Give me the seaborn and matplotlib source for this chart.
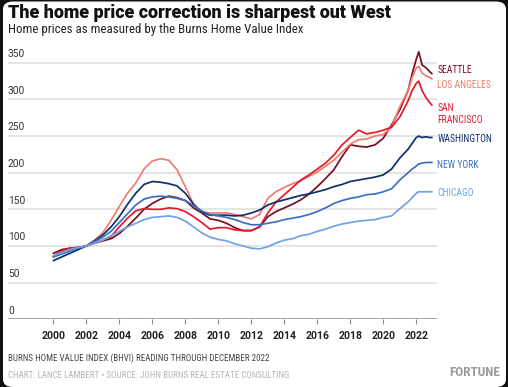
import matplotlib
matplotlib.use("Agg")
import matplotlib.pyplot as plt
from matplotlib.patches import FancyBboxPatch
import seaborn as sns
import pandas as pd

years = [2000.0, 2000.5, 2001.0, 2001.5, 2002.0, 2002.5, 2003.0, 2003.5, 2004.0, 2004.5,
         2005.0, 2005.5, 2006.0, 2006.5, 2007.0, 2007.5, 2008.0, 2008.5, 2009.0, 2009.5,
         2010.0, 2010.5, 2011.0, 2011.5, 2012.0, 2012.5, 2013.0, 2013.5, 2014.0, 2014.5,
         2015.0, 2015.5, 2016.0, 2016.5, 2017.0, 2017.5, 2018.0, 2018.5, 2019.0, 2019.5,
         2020.0, 2020.5, 2021.0, 2021.5, 2021.75, 2022.0, 2022.15, 2022.35, 2022.6, 2022.8, 2022.95]

seattle = [90, 95, 97, 98, 100, 104, 107, 110, 117, 127, 138, 150, 158, 164, 168, 166, 162, 152, 145, 137,
           135, 131, 125, 121, 121, 126, 140, 147, 152, 157, 163, 171, 181, 192, 204, 222, 238, 236, 235, 238,
           247, 265, 286, 312, 335, 355, 365, 347, 343, 338, 335]
los_angeles = [85, 90, 94, 97, 100, 108, 118, 135, 154, 172, 186, 205, 216, 219, 217, 204, 181, 157, 146, 145,
               145, 145, 143, 140, 137, 143, 165, 174, 180, 185, 189, 195, 201, 209, 217, 228, 239, 245, 246, 250,
               252, 262, 290, 312, 330, 343, 345, 336, 332, 330, 328]
san_francisco = [86, 93, 97, 98, 100, 104, 108, 113, 126, 138, 148, 151, 150, 150, 152, 151, 147, 140, 132, 123,
                 125, 125, 122, 121, 121, 126, 145, 160, 170, 180, 190, 197, 205, 213, 224, 238, 248, 258, 253, 255,
                 258, 262, 276, 298, 312, 322, 325, 312, 302, 296, 292]
washington = [80, 85, 90, 95, 100, 107, 115, 126, 140, 157, 172, 184, 188, 187, 185, 182, 172, 157, 146, 142,
              142, 142, 141, 142, 145, 149, 156, 160, 163, 166, 169, 171, 174, 177, 181, 184, 188, 190, 192, 194,
              197, 205, 220, 232, 240, 248, 250, 248, 249, 248, 248]
new_york = [85, 89, 93, 97, 100, 106, 112, 120, 132, 144, 156, 164, 167, 168, 167, 165, 162, 155, 148, 143,
            141, 139, 136, 132, 129, 129, 131, 133, 136, 138, 140, 143, 147, 152, 158, 162, 165, 167, 170, 171,
            174, 178, 190, 200, 205, 209, 212, 213, 214, 214, 214]
chicago = [87, 91, 95, 98, 100, 104, 108, 114, 120, 126, 131, 136, 139, 140, 141, 139, 134, 126, 118, 112,
           109, 107, 103, 100, 97, 96, 99, 104, 108, 110, 114, 116, 120, 123, 127, 130, 132, 134, 135, 136,
           139, 141, 151, 160, 166, 172, 174, 174, 174, 174, 174]

cities = ["SEATTLE", "LOS ANGELES", "SAN\nFRANCISCO", "WASHINGTON", "NEW YORK", "CHICAGO"]
series = [seattle, los_angeles, san_francisco, washington, new_york, chicago]
colors = ["#7a0d1f", "#f47a6e", "#e01b2c", "#0e2f6b", "#3b6fc0", "#6fa3e6"]
label_y = [340, 319, 280, 246, 211, 172]

y_ticks = [0, 50, 100, 150, 200, 250, 300, 350]
x_ticks = [2000, 2002, 2004, 2006, 2008, 2010, 2012, 2014, 2016, 2018, 2020, 2022]

title = "The home price correction is sharpest out West"
subtitle = "Home prices as measured by the Burns Home Value Index"
note = "BURNS HOME VALUE INDEX (BHVI) READING THROUGH DECEMBER 2022"
source = "CHART: LANCE LAMBERT \u2022 SOURCE: JOHN BURNS REAL ESTATE CONSULTING"

rows = []
for c, s in zip(cities, series):
    for yr, v in zip(years, s):
        rows.append({"year": yr, "value": v, "city": c})
df = pd.DataFrame(rows)

sns.set_style("white")
plt.rcParams["font.family"] = ["Roboto", "DejaVu Sans"]

W, H = 508, 387
fig = plt.figure(figsize=(W / 100, H / 100), dpi=100)
fig.patch.set_facecolor("#111111")
bg = FancyBboxPatch((3 / W, 0.0), (W - 5) / W, (H - 1.5) / H,
                    boxstyle="round,pad=0,rounding_size=0.02",
                    transform=fig.transFigure, facecolor="white", edgecolor="none", zorder=-10)
fig.patches.append(bg)

ax = fig.add_axes([8 / W, 1 - 319.3 / H, (437 - 8) / W, (319.3 - 50) / H])
ax.set_facecolor("none")

sns.lineplot(data=df, x="year", y="value", hue="city", palette=dict(zip(cities, colors)),
             hue_order=cities, legend=False, ax=ax, linewidth=1.25, estimator=None, sort=False)

x0 = 2000 - (53.3 - 8) / 16.5
x1 = 2000 + (437 - 53.3) / 16.5
ax.set_xlim(x0, x1)
ax.set_ylim(0, (319.3 - 50) / 0.733)

for t in y_ticks[1:]:
    ax.axhline(t, color="#dcdcdc", lw=1.1, zorder=0)
ax.axhline(0, color="#8a8a8a", lw=1.1, zorder=1)

ax.set_yticks([])
for t in y_ticks:
    ax.text(x0, t + 5, str(t), fontsize=7.3, color="#333333", ha="left", va="bottom",
            family=["Roboto", "DejaVu Sans"])

ax.set_xticks(x_ticks)
ax.set_xticklabels([str(t) for t in x_ticks], fontsize=7.6, fontweight="bold", color="#222222")
ax.tick_params(axis="x", length=3.5, width=0.8, color="#8a8a8a", pad=5, direction="out")
ax.xaxis.set_ticks_position("bottom")
ax.set_xlabel("")
ax.set_ylabel("")
for sp in ax.spines.values():
    sp.set_visible(False)

for c, col, ly in zip(cities, colors, label_y):
    ax.text(2023.28, ly, c, color=col, fontsize=6.9, ha="left", va="center",
            family=["Roboto Condensed", "Liberation Sans Narrow", "Roboto"], linespacing=1.25,
            clip_on=False)

fig.text(8 / W, 1 - 13 / H, title, fontsize=12.9, fontweight="heavy", color="#111111",
         ha="left", va="center", family=["Roboto", "DejaVu Sans"])
fig.text(8 / W, 1 - 30 / H, subtitle, fontsize=9.3, color="#222222",
         ha="left", va="center", family=["Roboto Condensed", "Liberation Sans Narrow", "Roboto"])
fig.text(8 / W, 1 - 358 / H, note, fontsize=6.5, color="#444444",
         ha="left", va="center", family=["Roboto Condensed", "Liberation Sans Narrow", "Roboto"])
fig.text(8 / W, 1 - 375 / H, source, fontsize=6.45, color="#b5b5b5",
         ha="left", va="center", family=["Roboto Condensed", "Liberation Sans Narrow", "Roboto"])
fig.text(500 / W, 1 - 373 / H, "FORTUNE", fontsize=9.5, fontweight="bold", color="#9a9a9a",
         ha="right", va="center", family=["Roboto Condensed", "Liberation Sans Narrow", "Roboto"])

fig.savefig("out.png", dpi=100, facecolor=fig.get_facecolor())
